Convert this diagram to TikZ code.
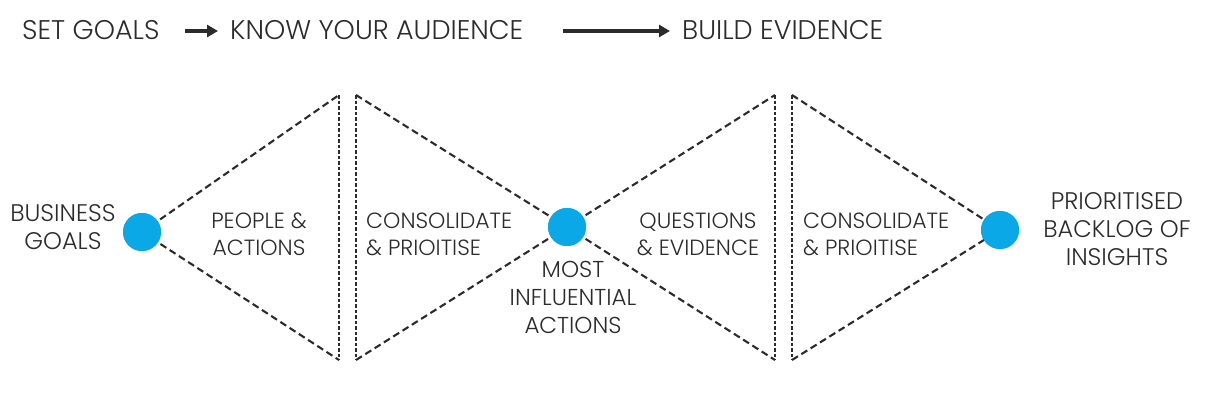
\documentclass[tikz,border=0pt]{standalone}
\usepackage{fontspec}
\setmainfont{Poppins}[UprightFont=* Light]
\usetikzlibrary{arrows.meta}
\definecolor{InkGrey}{HTML}{2B2B2B}
\definecolor{DotBlue}{HTML}{0AA8E6}

\begin{document}
\begin{tikzpicture}[
            x=1pt, y=-1pt,
            font=\fontsize{22}{27}\selectfont,
            text=InkGrey,
            step head/.style={font=\fontsize{27}{30}\selectfont, inner sep=0pt, anchor=base west},
            label/.style={inner sep=0pt, align=center},
            endlabel/.style={label, font=\fontsize{24}{28}\selectfont},
            leftlabel/.style={inner sep=0pt, align=left, anchor=west},
            dot/.style={circle, fill=DotBlue, draw=none, minimum size=38pt, inner sep=0pt},
            edge/.style={draw=InkGrey, line width=2.1pt, dash pattern=on 7pt off 4pt},
            wall/.style={draw=InkGrey, line width=2pt, dash pattern=on 3.5pt off 2pt},
            flow/.style={draw=InkGrey, line width=4pt, -{Triangle[length=11pt,width=12pt]}},
        ]
        \useasboundingbox (0,0) rectangle (1228,404);

        % Headline steps
        \node[step head] (goals) at (22,40) {SET GOALS};
        \node[step head] (audience) at (230,40) {KNOW YOUR AUDIENCE};
        \node[step head] (evidence) at (682,40) {BUILD EVIDENCE};
        \draw[flow] ([xshift=-45pt,yshift=9pt]audience.base west) -- ([xshift=-12pt,yshift=9pt]audience.base west);
        \draw[flow] ([xshift=-119pt,yshift=9pt]evidence.base west) -- ([xshift=-12pt,yshift=9pt]evidence.base west);

        % Stages
        \node[dot] (start) at (142,232) {};
        \node[dot] (mid) at (567,227) {};
        \node[dot] (finish) at (1000,230) {};

        \coordinate (w1t) at (339,95);  \coordinate (w1b) at (339,360);
        \coordinate (w2t) at (356,95);  \coordinate (w2b) at (356,360);
        \coordinate (w3t) at (775,95);  \coordinate (w3b) at (775,360);
        \coordinate (w4t) at (792,95);  \coordinate (w4b) at (792,360);

        \draw[edge] (start.center) -- (w1t);
        \draw[edge] (start.center) -- (w1b);
        \draw[edge] (w2t) -- (mid.center);
        \draw[edge] (w2b) -- (mid.center);
        \draw[edge] (mid.center) -- (w3t);
        \draw[edge] (mid.center) -- (w3b);
        \draw[edge] (w4t) -- (finish.center);
        \draw[edge] (w4b) -- (finish.center);

        \draw[wall] (w1t) -- (w1b);
        \draw[wall] (w2t) -- (w2b);
        \draw[wall] (w3t) -- (w3b);
        \draw[wall] (w4t) -- (w4b);

        % Dots on top of the edges
        \node[dot] at (start) {};
        \node[dot] at (mid) {};
        \node[dot] at (finish) {};

        % Labels
        \node[endlabel] (business) at (63,227) {BUSINESS\\GOALS};
        \node[label] (people) at (259,234) {PEOPLE \&\\ACTIONS};
        \node[leftlabel] (consolidate1) at (366,234) {CONSOLIDATE\\\& PRIOITISE};
        \node[label, font=\fontsize{23}{28}\selectfont] (influential) at (573,297) {MOST\\INFLUENTIAL\\ACTIONS};
        \node[label] (questions) at (698,234) {QUESTIONS\\\& EVIDENCE};
        \node[leftlabel] (consolidate2) at (803,234) {CONSOLIDATE\\\& PRIOITISE};
        \node[endlabel] (backlog) at (1117,229) {PRIORITISED\\BACKLOG OF\\INSIGHTS};

    \end{tikzpicture}
\end{document}
